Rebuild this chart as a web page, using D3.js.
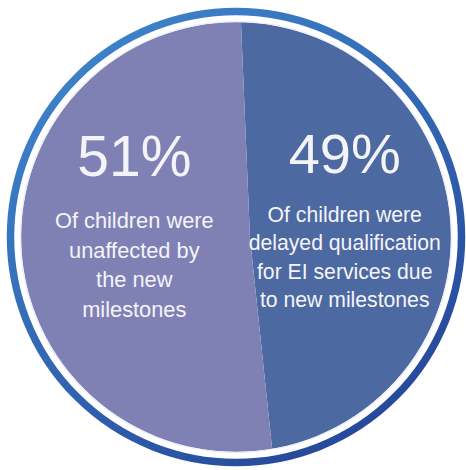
<!DOCTYPE html>
<html>
<head>
	<title>EI milestones</title>
	<meta charset="UTF-8">
	<style>
		body { margin: 0; background: #fff; }
		svg { display: block; }
		text {
			font-family: "Liberation Sans", Arial, sans-serif;
			fill: #f4f4f8;
			text-anchor: middle;
		}
	</style>
</head>
<body>
</body>
<script src="https://d3js.org/d3.v7.min.js"></script>
<script type="text/javascript">

'use strict';

// data, clockwise from the top
var categories = ["delayed", "unaffected"];
var values = [49, 51];
var captions = [
	["Of children were", "delayed qualification", "for EI services due", "to new milestones"],
	["Of children were", "unaffected by", "the new", "milestones"]
];

var width = 466;
var height = 470;

var cx = 236, cy = 237;        // circle centre
var pieR = 215;                // visible pie radius
var ringR = 225.5, ringW = 7.5;  // outer blue ring
var pcx = 250, pcy = 238;      // pie pivot (the slice edge is drawn a bit off-centre)

var color = d3.scaleOrdinal()
	.domain(categories)
	.range(["#4c69a1", "#7f81b5"]);

var svg = d3.select("body").append("svg")
	.attr("width", width)
	.attr("height", height);

var defs = svg.append("defs");

var grad = defs.append("linearGradient")
	.attr("id", "ringGrad")
	.attr("x1", "0%").attr("y1", "0%")
	.attr("x2", "70%").attr("y2", "100%");
grad.append("stop").attr("offset", "0%").attr("stop-color", "#3f8ad0");
grad.append("stop").attr("offset", "55%").attr("stop-color", "#3368b4");
grad.append("stop").attr("offset", "100%").attr("stop-color", "#27489a");

defs.append("clipPath")
	.attr("id", "pieClip")
	.append("circle")
	.attr("cx", cx)
	.attr("cy", cy)
	.attr("r", pieR);

// outer ring
svg.append("circle")
	.attr("cx", cx)
	.attr("cy", cy)
	.attr("r", ringR)
	.attr("fill", "none")
	.attr("stroke", "url(#ringGrad)")
	.attr("stroke-width", ringW);

var a0 = -2.4 * Math.PI / 180;

var pie = d3.pie()
	.sort(null)
	.value(function(d){ return d; })
	.startAngle(a0)
	.endAngle(a0 + 2 * Math.PI);

var arc = d3.arc()
	.innerRadius(0)
	.outerRadius(240);

var arcs = pie(values);

svg.append("g")
	.attr("clip-path", "url(#pieClip)")
	.append("g")
	.attr("transform", "translate(" + pcx + "," + pcy + ")")
	.selectAll("path")
	.data(arcs)
	.enter().append("path")
	.attr("d", arc)
	.attr("fill", function(d, i){ return color(categories[i]); });

// thin light rim round the pie
svg.append("circle")
	.attr("cx", cx)
	.attr("cy", cy)
	.attr("r", pieR + 0.5)
	.attr("fill", "none")
	.attr("stroke", "#eef0f8")
	.attr("stroke-width", 1.5);

// labels
var labelArc = d3.arc().innerRadius(106).outerRadius(106);

var layout = [
	{ dx: 3, pctY: 173, pctSize: 56, lineY: 222, lineH: 28.4, size: 21.2 },
	{ dx: 4, pctY: 176, pctSize: 57, lineY: 228, lineH: 29.6, size: 21.8 }
];

var labels = svg.append("g")
	.attr("transform", "translate(" + cx + "," + cy + ")")
	.selectAll("g")
	.data(arcs)
	.enter().append("g")
	.attr("transform", function(d, i){
		var c = labelArc.centroid(d);
		return "translate(" + (c[0] + layout[i].dx) + ",0)";
	});

labels.append("text")
	.attr("y", function(d, i){ return layout[i].pctY - cy; })
	.style("font-size", function(d, i){ return layout[i].pctSize + "px"; })
	.text(function(d){ return d.value + "%"; });

labels.each(function(d, i){
	var L = layout[i];
	d3.select(this).selectAll("text.cap")
		.data(captions[i])
		.enter().append("text")
		.attr("class", "cap")
		.attr("y", function(s, j){ return L.lineY - cy + j * L.lineH; })
		.style("font-size", L.size + "px")
		.text(function(s){ return s; });
});

</script>
</html>
